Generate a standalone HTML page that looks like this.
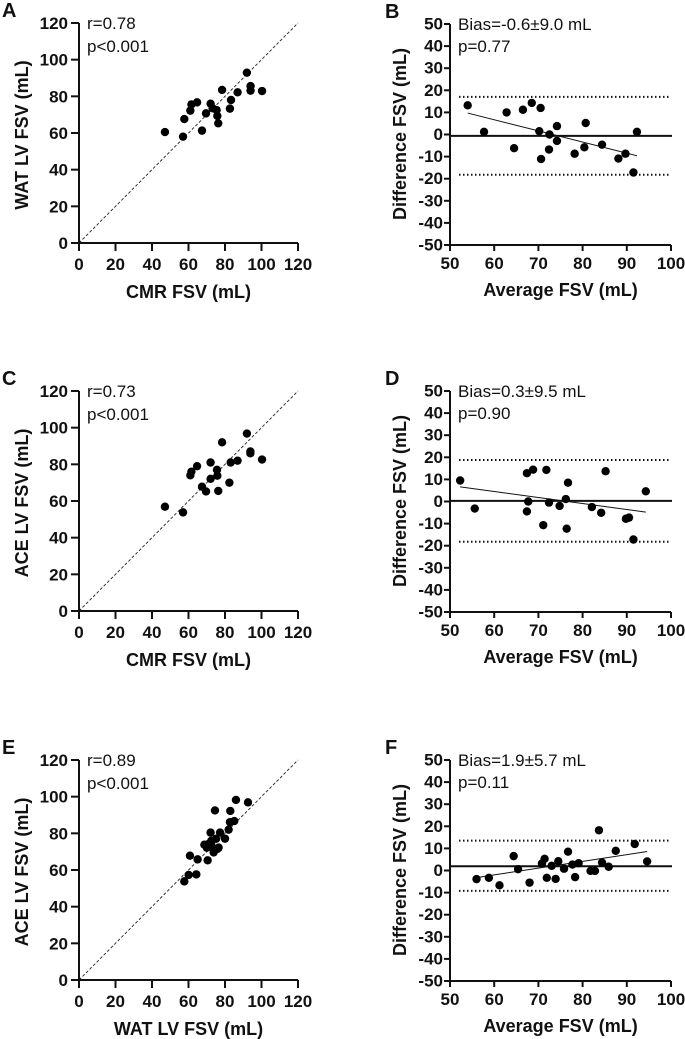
<!DOCTYPE html>
<html><head><meta charset="utf-8">
<style>
html,body{margin:0;padding:0;background:#fff;}
svg{display:block;font-family:"Liberation Sans",Arial,sans-serif;}
.tick{font-weight:bold;font-size:17px;fill:#111;}
.title{font-weight:bold;font-size:18px;fill:#111;}
.ann{font-size:17px;fill:#111;}
.letter{font-weight:bold;font-size:20px;fill:#111;}
</style></head>
<body>
<svg id="fig" width="685" height="1039" viewBox="0 0 685 1039"></svg>
<script>
// ---- Panel A data (CMR vs WAT) ----
const aX = [47.1,57,57.7,61,61.6,64.7,67.4,69.6,72.1,73.2,75.4,75.8,76.3,78.4,82.7,83.3,86.9,92,94,94,100.3];
const aY = [60.5,58,67.6,72.2,75.6,76.7,61.3,70.7,76,73.5,72.5,69.3,65.3,83.5,73.3,78,82.2,92.9,85.6,83.1,82.9];
// ---- Panel B data ----
const bX = [54,57.7,62.8,64.5,66.5,68.5,70.5,70.2,70.6,72.5,72.4,74.2,74.2,78.2,80.4,80.7,84.4,88.1,89.7,91.5,92.3];
const bY = [13.2,1.2,10,-6.2,11.2,14.3,12,1.5,-11.1,0,-6.8,3.8,-2.9,-8.7,-5.8,5.2,-4.6,-10.9,-8.7,-17.2,1.2];
const bBias = -0.6, bUpper = 17.0, bLower = -18.2;
const bFit = [[54,9.7],[92.3,-9.6]];
// ---- Panel C data ----
const cX = [47.1,57,61,61.6,64.7,67.4,69.6,72.1,72.1,75.6,75.8,76.3,78.4,82.4,83.1,86.9,92,93.9,93.9,100.3];
const cY = [56.9,53.8,74,76,79,67.8,65.2,81,72.1,77,73.8,65.5,92,70,81,82,96.8,87,86,82.6];
// ---- Panel D data ----
const dX = [52.3,55.6,67.4,68.8,67.4,67.7,71.8,72.4,71.1,74.8,76.2,76.7,76.4,82.1,84.2,85.2,89.8,90.5,91.5,94.3];
const dY = [9.5,-3.2,12.8,14.4,-4.5,0,14.3,-0.5,-10.7,-2,1.1,8.5,-12.3,-2.5,-5.1,13.7,-7.8,-7.3,-17.2,4.6];
const dBias = 0.3, dUpper = 18.8, dLower = -18.2;
const dFit = [[52.3,6.6],[94.3,-4.8]];
// ---- Panel E data ----
const eX = [57.7,60.1,60.8,64.3,65,70.5,68.7,70,72.1,72.5,73.2,74.5,73.8,75.8,75.1,77.3,80,82,82.7,82.9,85.1,86,92.6,76.5,71.6];
const eY = [53.8,57.3,67.8,57.6,65.8,65.3,73.8,72.2,80.4,75.9,72.2,92.5,69.6,71.5,77,80.4,77.1,82,86.1,92.2,86.7,98.2,96.9,72.2,74.7];
// ---- Panel F data ----
const fX = [56,58.8,61.2,64.4,65.4,68,70.8,71.4,71.9,73,73.9,74.5,75.8,76.7,77.7,78.3,79.1,81.8,82.8,83.7,84.4,85.9,87.5,91.8,94.6];
const fY = [-3.9,-3.3,-6.7,6.5,0.6,-5.5,3.2,5.3,-3.3,2.1,-3.8,4.2,0.8,8.5,2.7,-3,3.3,-0.2,-0.2,18.2,3.6,1.7,8.9,12,4.1];
const fBias = 1.9, fUpper = 13.5, fLower = -9.2;
const fFit = [[56,-3.2],[94.6,8.6]];
// ---- Tick labels ----
const scatterTicks = [0,20,40,60,80,100,120];
const baTicksY = [-50,-40,-30,-20,-10,0,10,20,30,40,50];
const baTicksX = [50,60,70,80,90,100];

const NS = "http://www.w3.org/2000/svg";
const svg = document.getElementById('fig');
function mk(tag, attrs, parent){const e=document.createElementNS(NS,tag);for(const k in attrs)e.setAttribute(k,attrs[k]);(parent||svg).appendChild(e);return e;}
function txt(s, attrs, parent){const e=mk('text',attrs,parent);e.textContent=s;return e;}

function scatterPanel(top, letter, xs, ys, xTitle, yTitle, r, p){
  const L=79,R=298,B=top+220;
  const g=mk('g',{});
  
  
  const sx=v=>L+(R-L)*v/120, sy=v=>B-(B-top)*v/120;
  const lt=txt(letter,{x:2,y:top-6,class:'letter'},g);
   
  const idl=mk('line',{x1:sx(0),y1:sy(0),x2:sx(120),y2:sy(120),stroke:'#222','stroke-width':0.9,'stroke-dasharray':'3,2'},g);
   
  const ax=mk('path',{d:`M${L},${top} V${B} H${R}`,fill:'none',stroke:'#111','stroke-width':2},g);
   
  scatterTicks.forEach(t=>{
    mk('line',{x1:L-8,x2:L,y1:sy(t),y2:sy(t),stroke:'#111','stroke-width':2},g);
    mk('line',{x1:sx(t),x2:sx(t),y1:B,y2:B+8,stroke:'#111','stroke-width':2},g);
    const ty=txt(String(t),{x:L-11,y:sy(t)+6,'text-anchor':'end',class:'tick'},g);
     
    const tx=txt(String(t),{x:sx(t),y:B+27,'text-anchor':'middle',class:'tick'},g);
     
  });
  const xt=txt(xTitle,{x:(L+R)/2,y:B+55,'text-anchor':'middle',class:'title'},g);
   
  const yt=txt(yTitle,{x:0,y:0,'text-anchor':'middle',class:'title',transform:`translate(28,${top+112}) rotate(-90)`},g);
   
  const a1=txt(r,{x:87,y:top+6,class:'ann'},g);
   
  const a2=txt(p,{x:87,y:top+29,class:'ann'},g);
   
  xs.forEach((v,i)=>{
    const c=mk('circle',{cx:sx(v),cy:sy(ys[i]),r:4.2,fill:'#000'},g);
     
  });
}

function baPanel(top, letter, xs, ys, bias, up, lo, fit, bTxt, pTxt){
  const L=450,R=671,B=top+221;
  const g=mk('g',{});
  
  
  const sx=v=>L+(R-L)*(v-50)/50, sy=v=>B-(B-top)*(v+50)/100;
  const lt=txt(letter,{x:385,y:top-6,class:'letter'},g);
   
  const ax=mk('path',{d:`M${L},${top} V${B} H${R}`,fill:'none',stroke:'#111','stroke-width':2},g);
   
  baTicksY.forEach(t=>{
    mk('line',{x1:L-6,x2:L,y1:sy(t),y2:sy(t),stroke:'#111','stroke-width':2},g);
    const ty=txt(String(t),{x:L-7,y:sy(t)+5.5,'text-anchor':'end',class:'tick'},g);
     
  });
  baTicksX.forEach(t=>{
    mk('line',{x1:sx(t),x2:sx(t),y1:B,y2:B+6,stroke:'#111','stroke-width':2},g);
    const tx=txt(String(t),{x:sx(t),y:B+24,'text-anchor':'middle',class:'tick'},g);
     
  });
  const bl=mk('line',{x1:L,x2:R+1,y1:sy(bias),y2:sy(bias),stroke:'#111','stroke-width':2},g);
   
  [up,lo].forEach(v=>{
    const d=mk('line',{x1:L+9,x2:R,y1:sy(v),y2:sy(v),stroke:'#111','stroke-width':2,'stroke-dasharray':'1.5,2.5'},g);
     
  });
  const rl=mk('line',{x1:sx(fit[0][0]),y1:sy(fit[0][1]),x2:sx(fit[1][0]),y2:sy(fit[1][1]),stroke:'#111','stroke-width':1},g);
   
  const xt=txt('Average FSV (mL)',{x:(L+R)/2,y:B+51,'text-anchor':'middle',class:'title'},g);
   
  const yt=txt('Difference FSV (mL)',{x:0,y:0,'text-anchor':'middle',class:'title',transform:`translate(406,${top+110}) rotate(-90)`},g);
   
  const a1=txt(bTxt,{x:458,y:top+6,class:'ann'},g);
   
  const a2=txt(pTxt,{x:458,y:top+28,class:'ann'},g);
   
  xs.forEach((v,i)=>{
    const c=mk('circle',{cx:sx(v),cy:sy(ys[i]),r:4.2,fill:'#000'},g);
     
  });
}

scatterPanel(23,'A',aX,aY,'CMR FSV (mL)','WAT LV FSV (mL)','r=0.78','p<0.001');
baPanel(24,'B',bX,bY,bBias,bUpper,bLower,bFit,'Bias=-0.6±9.0 mL','p=0.77');
scatterPanel(391,'C',cX,cY,'CMR FSV (mL)','ACE LV FSV (mL)','r=0.73','p<0.001');
baPanel(391,'D',dX,dY,dBias,dUpper,dLower,dFit,'Bias=0.3±9.5 mL','p=0.90');
scatterPanel(760,'E',eX,eY,'WAT LV FSV (mL)','ACE LV FSV (mL)','r=0.89','p<0.001');
baPanel(760,'F',fX,fY,fBias,fUpper,fLower,fFit,'Bias=1.9±5.7 mL','p=0.11');
</script>
</body></html>
